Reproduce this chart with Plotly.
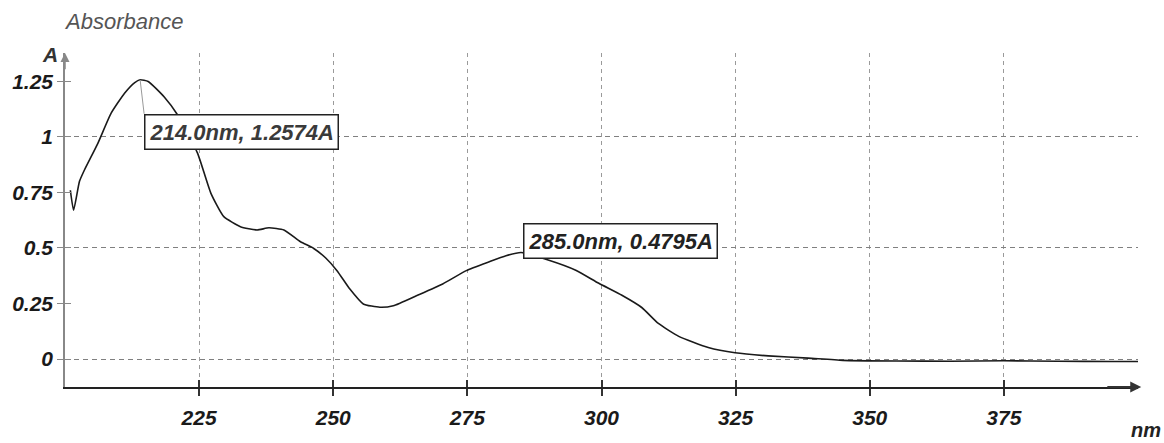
import plotly.graph_objects as go

# ---- data ----
wavelength_nm = [201.0, 201.6, 202.7, 203.6, 206.1, 208.6, 211.1, 213.0, 214.0, 215.5,
                 218.5, 221.0, 224.7, 227.2, 229.6, 232.7, 235.8, 238.0, 240.8, 243.9,
                 246.3, 248.6, 250.7, 253.1, 255.6, 258.7, 261.2, 265.5, 270.4, 274.8,
                 279.1, 282.2, 285.0, 290.2, 295.2, 299.5, 303.8, 307.5, 310.6, 314.4,
                 319.9, 324.9, 331.1, 338.5, 345.0, 355.0, 365.0, 375.0, 385.0, 395.0, 400.0]
absorbance = [0.76, 0.67, 0.80, 0.85, 0.97, 1.107, 1.197, 1.245, 1.2574, 1.25,
              1.18, 1.099, 0.927, 0.746, 0.641, 0.596, 0.581, 0.591, 0.581, 0.528,
              0.499, 0.455, 0.398, 0.315, 0.248, 0.233, 0.240, 0.285, 0.338, 0.398,
              0.438, 0.465, 0.4795, 0.445, 0.400, 0.341, 0.287, 0.232, 0.160, 0.102,
              0.052, 0.028, 0.014, 0.004, -0.006, -0.009, -0.010, -0.008, -0.010, -0.011, -0.011]

peaks_nm = [214.0, 285.0]
peaks_abs = [1.2574, 0.4795]

x_ticks = [225, 250, 275, 300, 325, 350, 375]
y_ticks = [0, 0.25, 0.5, 0.75, 1, 1.25]
y_tick_text = ["0", "0.25", "0.5", "0.75", "1", "1.25"]
y_grid = [0, 0.5, 1]
y_minor = [0.25, 0.75, 1.25]

x_range = [200, 400]
y_range = [-0.126, 1.378]

FONT = "Liberation Sans, Arial, sans-serif"
tickfont = dict(family=FONT, size=21, color="#1a1a1a", weight="bold", style="italic")

fig = go.Figure()
fig.add_trace(go.Scatter(
    x=wavelength_nm, y=absorbance, mode="lines",
    line=dict(color="#1a1a1a", width=1.6, shape="spline", smoothing=0.5),
    showlegend=False, hoverinfo="skip"))
# helper traces so the overlay axes (crossing ticks / selective grid) are drawn
fig.add_trace(go.Scatter(x=[None], y=[None], xaxis="x", yaxis="y2", showlegend=False, hoverinfo="skip"))
fig.add_trace(go.Scatter(x=[None], y=[None], xaxis="x2", yaxis="y", showlegend=False, hoverinfo="skip"))

annotations = []
# peak labels
for i, (pn, pa) in enumerate(zip(peaks_nm, peaks_abs)):
    txt = f"{pn:.1f}nm, {pa:.4f}A"
    common = dict(x=pn, y=pa, xref="x", yref="y", text=txt,
                  font=dict(family=FONT, size=22, color="#222" if i else "#3a3a3a",
                            weight="bold", style="italic"),
                  bgcolor="white", bordercolor="#222", borderwidth=1.5, borderpad=4,
                  xanchor="left")
    if i == 0:
        annotations.append(dict(**common, showarrow=True, ax=4, ay=34,
                                arrowhead=0, arrowwidth=1, arrowcolor="#9a9a9a",
                                yanchor="top"))
    else:
        annotations.append(dict(**common, showarrow=False, yanchor="bottom",
                                xshift=2, yshift=-6))

# axis titles
annotations.append(dict(text="Absorbance", xref="paper", yref="paper", x=-0.003, y=1.093,
                        xanchor="left", yanchor="middle", showarrow=False,
                        font=dict(family=FONT, size=22, color="#555", style="italic")))
annotations.append(dict(text="A", xref="paper", yref="paper", x=-0.014, y=0.997,
                        xanchor="center", yanchor="middle", showarrow=False,
                        font=dict(family=FONT, size=21, color="#333", weight="bold", style="italic")))
annotations.append(dict(text="nm", xref="paper", yref="paper", x=1.007, y=-0.128,
                        xanchor="center", yanchor="middle", showarrow=False,
                        font=dict(family=FONT, size=20, color="#222", weight="bold", style="italic")))
# axis arrowheads
annotations.append(dict(text="", x=x_range[1] + 0.6, y=y_range[0], xref="x", yref="y",
                        ax=x_range[1] - 6, ay=y_range[0], axref="x", ayref="y",
                        showarrow=True, arrowhead=2, arrowsize=1.1, arrowwidth=2, arrowcolor="#333"))
annotations.append(dict(text="", x=x_range[0], y=y_range[1], xref="x", yref="y",
                        ax=x_range[0], ay=y_range[1] - 0.08, axref="x", ayref="y",
                        showarrow=True, arrowhead=2, arrowsize=1.2, arrowwidth=1.5, arrowcolor="#888"))

fig.update_layout(
    width=1164, height=443,
    margin=dict(l=60, r=26, t=53, b=56),
    paper_bgcolor="white", plot_bgcolor="white",
    showlegend=False,
    xaxis=dict(range=x_range, tickmode="array", tickvals=x_ticks,
               ticks="outside", ticklen=7, tickwidth=1.5, tickcolor="#333",
               showgrid=True, gridcolor="#9a9a9a", gridwidth=1, griddash="4px,4px",
               showline=True, linecolor="#222", linewidth=2, zeroline=False,
               tickfont=tickfont, ticklabelstandoff=4),
    xaxis2=dict(range=x_range, overlaying="x", anchor="y", side="bottom",
                tickmode="array", tickvals=x_ticks, ticks="inside", ticklen=7,
                tickwidth=1.5, tickcolor="#333", showticklabels=False,
                showgrid=False, showline=False, zeroline=False),
    yaxis=dict(range=y_range, tickmode="array", tickvals=y_ticks, ticktext=y_tick_text,
               ticks="outside", ticklen=6, tickwidth=1, tickcolor="#888",
               showgrid=False, showline=True, linecolor="#888", linewidth=1.5,
               zeroline=False, tickfont=tickfont),
    yaxis2=dict(range=y_range, overlaying="y", anchor="x", side="left",
                tickmode="array", tickvals=y_grid, ticks="inside", ticklen=6,
                tickwidth=1, tickcolor="#888", showticklabels=False,
                showgrid=True, gridcolor="#808080", gridwidth=1, griddash="5px,4px",
                minor=dict(tickmode="array", tickvals=y_minor, ticks="inside", ticklen=6,
                           tickwidth=1, tickcolor="#888", showgrid=False),
                showline=False, zeroline=False),
    annotations=annotations,
)

fig.write_html("out.html")
